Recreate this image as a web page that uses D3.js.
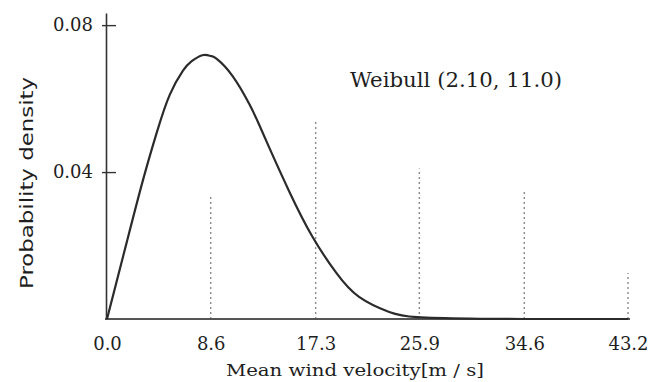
<!DOCTYPE html>
<html>
<head>
<meta charset="utf-8">
<script src="https://cdn.jsdelivr.net/npm/d3@7"></script>
<style>
  body { margin: 0; background: #fff; }
  svg { display: block; }
</style>
</head>
<body>
<svg></svg>
<script>
// curve
let velocity = [0, 1.66, 3.0, 4.15, 5.2, 6.3, 7.0, 7.9, 8.6, 9.1, 10.4, 11.8, 12.6, 13.5, 15.1, 17.0, 19.0, 20.9, 23.4, 25.7, 30, 34.6, 43.2]
let density  = [0, 0.0212, 0.0380, 0.0510, 0.0610, 0.0676, 0.0701, 0.0718, 0.0716, 0.0708, 0.0662, 0.0585, 0.0530, 0.0463, 0.0348, 0.0226, 0.0126, 0.0060, 0.0019, 0.0005, 0.0001, 0, 0]

let xTicks = [0.0, 8.6, 17.3, 25.9, 34.6, 43.2]
let yTicks = [0.04, 0.08]
// how far up each faint dotted gridline reaches (not drawn at 0.0)
let gridTop = [0.034, 0.054, 0.041, 0.035, 0.0125]

let label = 'Weibull (2.10, 11.0)'
let xTitle = 'Mean wind velocity[m / s]'
let yTitle = 'Probability density'

let width = 649
let height = 382
let padLeft = 106, padRight = 628, padTop = 13, padBottom = 319

let svg = d3.select('svg').attr('width', width).attr('height', height)

let xScale = d3.scaleLinear().domain([0, 43.2]).range([padLeft + 1, padRight])
let yScale = d3.scaleLinear().domain([0, 0.0833]).range([padBottom, padTop])

let serif = 'DejaVu Serif, serif'
let ink = '#1e1e1e'

// dotted gridlines
svg.append('g')
    .selectAll('line')
    .data(xTicks.slice(1))
    .enter()
    .append('line')
    .attr('x1', d => xScale(d))
    .attr('x2', d => xScale(d))
    .attr('y1', yScale(0))
    .attr('y2', (d, i) => yScale(gridTop[i]))
    .attr('stroke', '#8a8a8a')
    .attr('stroke-width', 1.4)
    .attr('stroke-dasharray', '2,3')

// x axis
let xAxis = d3.axisBottom(xScale)
    .tickValues(xTicks)
    .tickFormat(d3.format('.1f'))
    .tickSize(0)
    .tickPadding(18)

let gx = svg.append('g')
    .attr('transform', 'translate(0,' + padBottom + ')')
    .call(xAxis)
gx.select('.domain').attr('d', 'M' + (padLeft - 1) + ',0H' + (padRight + 2))
    .attr('stroke', '#555').attr('stroke-width', 2)
gx.selectAll('text').attr('font-family', serif).attr('font-size', 18).attr('fill', ink)

// y axis
let yAxis = d3.axisLeft(yScale)
    .tickValues(yTicks)
    .tickFormat(d3.format('.2f'))
    .tickSizeInner(-10)
    .tickSizeOuter(0)
    .tickPadding(13)

let gy = svg.append('g')
    .attr('transform', 'translate(' + padLeft + ',0)')
    .call(yAxis)
gy.select('.domain').attr('stroke', '#333').attr('stroke-width', 1.6)
gy.selectAll('.tick line').attr('x1', -4).attr('stroke', '#333').attr('stroke-width', 1.4)
gy.selectAll('text').attr('font-family', serif).attr('font-size', 18).attr('fill', ink)

// the density curve
let line = d3.line()
    .x((d, i) => xScale(velocity[i]))
    .y(d => yScale(d))
    .curve(d3.curveNatural)

svg.append('path')
    .datum(density)
    .attr('d', line)
    .attr('fill', 'none')
    .attr('stroke', '#2b2b2b')
    .attr('stroke-width', 2.2)

// texts
svg.append('text')
    .attr('x', 350).attr('y', 87)
    .attr('font-family', serif).attr('font-size', 20)
    .attr('textLength', 212).attr('lengthAdjust', 'spacingAndGlyphs')
    .attr('fill', ink)
    .text(label)

svg.append('text')
    .attr('x', 226).attr('y', 376)
    .attr('font-family', serif).attr('font-size', 17)
    .attr('textLength', 258).attr('lengthAdjust', 'spacingAndGlyphs')
    .attr('fill', ink)
    .text(xTitle)

svg.append('text')
    .attr('transform', 'translate(33,289) rotate(-90)')
    .attr('font-family', 'DejaVu Sans, sans-serif').attr('font-size', 17)
    .attr('textLength', 212).attr('lengthAdjust', 'spacingAndGlyphs')
    .attr('fill', ink)
    .text(yTitle)
</script>
</body>
</html>
